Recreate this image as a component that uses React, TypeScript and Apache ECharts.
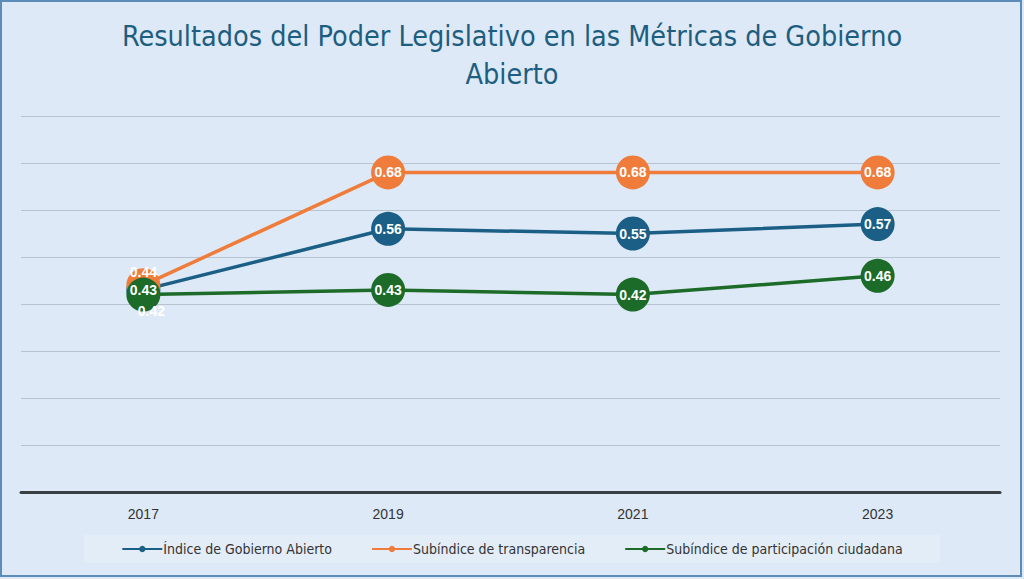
import React, { useEffect, useRef } from "react";
import * as echarts from "echarts";

const years = ["2017", "2019", "2021", "2023"];
const indiceGobiernoAbierto = [0.43, 0.56, 0.55, 0.57];
const subTransparencia = [0.44, 0.68, 0.68, 0.68];
const subParticipacion = [0.42, 0.43, 0.42, 0.46];
const seriesNames = [
  "Índice de Gobierno Abierto",
  "Subíndice de transparencia",
  "Subíndice de participación ciudadana",
];
const titleText = "Resultados del Poder Legislativo en las Métricas de Gobierno\nAbierto";

const colors = ["#1b5f86", "#ef7c3a", "#1c6b28"];
const FONT = "'DejaVu Sans Condensed', 'Liberation Sans Narrow', sans-serif";

export default function App() {
  const ref = useRef<HTMLDivElement>(null);
  useEffect(() => {
    document.body.style.margin = "0";
    const chart = echarts.init(ref.current!, null, { renderer: "svg" });
    const mkData = (vals: number[], special?: any) =>
      vals.map((v, i) => {
        if (i === 0 && special) return { value: v, label: special };
        return v;
      });
    const baseLabel = {
      show: true,
      position: "inside",
      color: "#ffffff",
      fontWeight: "bold",
      fontSize: 14,
      fontFamily: "Arial, 'Liberation Sans', sans-serif",
      formatter: (p: any) => Number(p.value).toFixed(2),
    };
    const mkSeries = (name: string, vals: number[], color: string, special?: any) => ({
      name,
      type: "line",
      data: mkData(vals, special),
      symbol: "circle",
      symbolSize: 34,
      lineStyle: { width: 3.5, color },
      itemStyle: { color },
      label: baseLabel,
      emphasis: { disabled: true },
    });
    chart.setOption({
      animation: false,
      backgroundColor: "#dde9f6",
      title: {
        text: titleText,
        left: "center",
        top: 12,
        textStyle: {
          color: "#1d5e80",
          fontSize: 28.5,
          fontWeight: "normal",
          fontFamily: FONT,
          lineHeight: 38,
        },
      },
      graphic: [
        {
          type: "rect",
          shape: { x: 1, y: 1, width: 1020, height: 575 },
          style: { fill: "none", stroke: "#5b8db8", lineWidth: 2 },
          silent: true,
        },
        {
          type: "rect",
          shape: { x: 84, y: 535, width: 856, height: 28 },
          style: { fill: "#e3edf8" },
          silent: true,
          z: -1,
        },
      ],
      legend: {
        bottom: 18,
        left: "center",
        itemGap: 39,
        itemWidth: 40,
        itemHeight: 8,
        data: seriesNames,
        textStyle: { color: "#333333", fontSize: 14, fontFamily: FONT, padding: [0, 0, 0, -4] },
      },
      grid: { left: 21, right: 24, top: 116, bottom: 87 },
      xAxis: {
        type: "category",
        data: years,
        boundaryGap: true,
        axisLine: { lineStyle: { color: "#3a3f44", width: 3 } },
        axisTick: { show: false },
        axisLabel: { color: "#333333", fontSize: 14, margin: 15, fontFamily: "Arial, sans-serif" },
      },
      yAxis: {
        type: "value",
        min: 0,
        max: 0.8,
        interval: 0.1,
        axisLabel: { show: false },
        axisLine: { show: false },
        axisTick: { show: false },
        splitLine: { lineStyle: { color: "#b7c4d0", width: 1 } },
      },
      series: [
        mkSeries(seriesNames[0], indiceGobiernoAbierto, colors[0]),
        mkSeries(seriesNames[1], subTransparencia, colors[1], {
          ...baseLabel,
          position: "inside",
          offset: [0, -13],
        }),
        mkSeries(seriesNames[2], subParticipacion, colors[2], {
          ...baseLabel,
          position: "inside",
          offset: [8, 16],
        }),
      ],
    });
    return () => chart.dispose();
  }, []);
  return <div ref={ref} style={{ width: 1024, height: 579 }} />;
}
